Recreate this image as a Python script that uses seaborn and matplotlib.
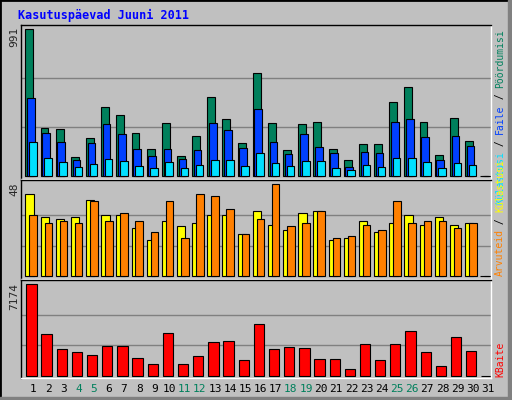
import matplotlib
matplotlib.use("Agg")
import matplotlib.pyplot as plt
import seaborn as sns
import numpy as np
from matplotlib.patches import Rectangle

sns.set_style("white")
plt.rcParams['font.family'] = ['DejaVu Sans Mono']

days = list(range(1, 32))
weekend = [4, 5, 11, 12, 18, 19, 25, 26]
hits = [991,324,317,128,256,465,411,290,182,357,135,270,533,384,222,694,357,175,351,364,182,108,216,216,499,600,364,142,391,236,0]
files = [526,290,229,108,222,351,283,182,135,182,115,175,357,310,189,452,229,148,283,196,155,61,162,155,364,384,263,108,270,202,0]
pages = [229,121,94,61,81,115,101,67,54,94,54,74,108,108,67,155,88,67,101,101,54,40,74,61,121,121,94,54,88,74,0]
visits = [43,31,30,31,40,32,32,25,19,29,26,28,32,32,22,34,27,24,33,34,19,20,29,23,28,32,27,31,27,28,0]
sites = [32,28,29,28,39,29,33,29,23,39,20,43,42,35,22,30,48,26,28,34,20,21,27,24,39,28,29,29,25,28,0]
kbytes = [7174,3247,2068,1833,1597,2304,2304,1362,890,3325,890,1519,2618,2697,1204,4032,2068,2225,2147,1283,1283,497,2461,1204,2461,3482,1833,733,3011,1911,0]

BG = "#C0C0C0"
W, H = 512, 400
fig = plt.figure(figsize=(W/100, H/100), dpi=100, facecolor=BG)
fig.patches.append(Rectangle((0, 0), 1, 1, transform=fig.transFigure, fill=False, edgecolor="black", lw=2))
fig.patches.append(Rectangle((508/W, 0), 4/W, 1, transform=fig.transFigure, color="#808080"))
fig.patches.append(Rectangle((0, 0), 1, 3/H, transform=fig.transFigure, color="#808080"))

def mkax(top, bottom):
    ax = fig.add_axes([21/W, 1-bottom/H, (491-21)/W, (bottom-top)/H], facecolor=BG)
    ax.set_xlim(0, 31)
    ax.set_xticks([]); ax.set_yticks([])
    for s in ax.spines.values():
        s.set_color("black"); s.set_linewidth(1)
    ax.spines['bottom'].set_color("white"); ax.spines['right'].set_color("white")
    return ax

x0 = np.arange(31)

def grid(ax, m):
    for f in (1/3, 2/3):
        ax.axhline(m*f, color="#808080", lw=1, zorder=0)

ax1 = mkax(25, 179)
m = hits[0]
ax1.set_ylim(-m*0.018, m*1.03)
grid(ax1, m)
ax1.bar(x0+0.29, hits, width=0.52, align='edge', color="#00805c", edgecolor="black", lw=0.8)
ax1.bar(x0+0.40, files, width=0.50, align='edge', color="#0040ff", edgecolor="black", lw=0.8)
ax1.bar(x0+0.53, pages, width=0.50, align='edge', color="#00e0ff", edgecolor="black", lw=0.8)

ax2 = mkax(180, 279)
m = max(sites)
ax2.set_ylim(-m*0.028, m*1.045)
grid(ax2, m)
ax2.bar(x0+0.29, visits, width=0.55, align='edge', color="#ffff00", edgecolor="black", lw=0.8)
ax2.bar(x0+0.55, sites, width=0.50, align='edge', color="#ff8000", edgecolor="black", lw=0.8)

ax3 = mkax(280, 378)
m = kbytes[0]
ax3.set_ylim(-m*0.025, m*1.047)
grid(ax3, m)
ax3.bar(x0+0.35, kbytes, width=0.68, align='edge', color="#ff0000", edgecolor="black", lw=0.8)

def ftext(px, py, s, **kw):
    fig.text(px/W, 1-py/H, s, **kw)

ftext(18, 15, "Kasutuspäevad Juuni 2011", color="#0000ff", fontsize=8.5, fontweight="bold", va="center")
ftext(14, 27, "991", rotation=90, fontsize=8, va="top", ha="center")
ftext(14, 182, "48", rotation=90, fontsize=8, va="top", ha="center")
ftext(14, 283, "7174", rotation=90, fontsize=8, va="top", ha="center")

for d in days:
    ftext(21 + (d-1+0.8)*470/31, 389, str(d), fontsize=8, ha="center", va="center",
          color="#00805c" if d in weekend else "black")

cw = 5.8
def vlabel(bottom_y, pieces):
    y = bottom_y
    for s, c in pieces:
        ftext(500, y, s, rotation=90, fontsize=7, color=c, va="bottom", ha="center")
        y -= cw*len(s)

vlabel(204, [("Külastusi", "#00e0ff"), (" / ", "black"), ("Faile", "#0040ff"), (" / ", "black"), ("Pöördumisi", "#00805c")])
vlabel(276, [("Arvuteid", "#ff8000"), (" / ", "black"), ("Külastusi", "#ffff00")])
vlabel(377, [("KBaite", "#ff0000")])

fig.savefig("out.png", dpi=100, facecolor=BG)
